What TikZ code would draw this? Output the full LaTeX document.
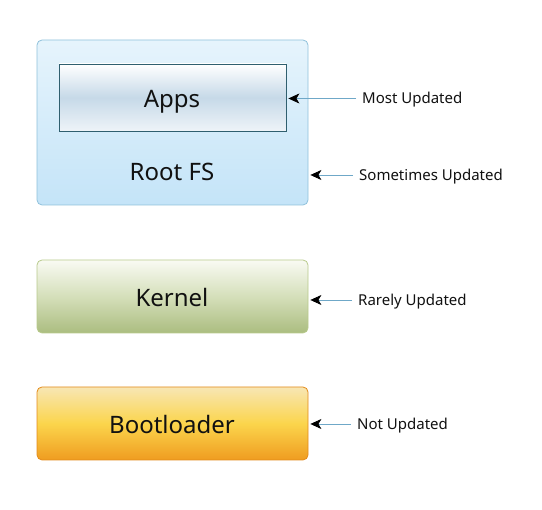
\documentclass[tikz,border=0pt]{standalone}
\usepackage{fontspec}
\setmainfont{Noto Sans}
\usetikzlibrary{arrows.meta}
\definecolor{rootTop}{HTML}{E6F4FC}
\definecolor{rootBot}{HTML}{C4E4F8}
\definecolor{rootLine}{HTML}{8FC1DB}
\definecolor{appsMid}{HTML}{C6D9E8}
\definecolor{appsLine}{HTML}{2F5F6F}
\definecolor{kerTop}{HTML}{F9FAF3}
\definecolor{kerMid}{HTML}{D5DFBA}
\definecolor{kerBot}{HTML}{ABBD80}
\definecolor{kerLine}{HTML}{B8CA8C}
\definecolor{bootTop}{HTML}{F8E6B4}
\definecolor{bootMid}{HTML}{FBD54C}
\definecolor{bootBot}{HTML}{EF9C20}
\definecolor{bootLine}{HTML}{E38B1B}
\definecolor{arrLine}{HTML}{6FA8C8}
\definecolor{txt}{HTML}{111111}
\begin{document}
\begin{tikzpicture}[x=1pt,y=-1pt,
  layer/.style={rounded corners=5pt, line width=0.8pt, minimum width=271pt, inner sep=0pt, anchor=center},
  mainlabel/.style={font=\fontsize{24}{28}\selectfont, text=txt, inner sep=0pt, anchor=base},
  sidelabel/.style={font=\fontsize{15}{18}\selectfont, text=txt, anchor=west, inner xsep=6pt, inner ysep=0pt, text height=10.7pt, text depth=0pt},
  pointer/.style={draw=arrLine, line width=0.7pt, shorten >=2pt, -{Stealth[length=11pt,width=10pt,inset=3pt,color=black]}}
]
\useasboundingbox (0,0) rectangle (542,510);
% Root FS
\node[layer, draw=rootLine, top color=rootTop, bottom color=rootBot, minimum height=165pt] (rootfs) at (172.5,122.5) {};
\node[draw=appsLine, line width=0.8pt, minimum width=227pt, minimum height=67pt, inner sep=0pt,
  top color=white, bottom color=white!70!appsMid, middle color=appsMid] (apps) at (172.5,97.5) {};
\node[mainlabel] (appstxt) at (172,108) {Apps};
\node[mainlabel] (roottxt) at (172,181) {Root FS};
% Kernel
\node[layer, draw=kerLine, top color=kerTop, bottom color=kerBot, middle color=kerMid, minimum height=73pt] (kernel) at (172.5,296.5) {};
\node[mainlabel] (kertxt) at (172,306.5) {Kernel};
% Bootloader
\node[layer, draw=bootLine, top color=bootTop, bottom color=bootBot, middle color=bootMid, minimum height=73pt] (boot) at (172.5,423.5) {};
\node[mainlabel] (boottxt) at (172,433.5) {Bootloader};
% side labels
\node[sidelabel] (most) at (356,98.5) {Most Updated};
\node[sidelabel] (some) at (353,175) {Sometimes Updated};
\node[sidelabel] (rare) at (352,300) {Rarely Updated};
\node[sidelabel] (notu) at (351,424) {Not Updated};
\draw[pointer] (most.west) -- (most.west -| apps.east);
\draw[pointer] (some.west) -- (some.west -| rootfs.east);
\draw[pointer] (rare.west) -- (rare.west -| kernel.east);
\draw[pointer] (notu.west) -- (notu.west -| boot.east);
\end{tikzpicture}
\end{document}
